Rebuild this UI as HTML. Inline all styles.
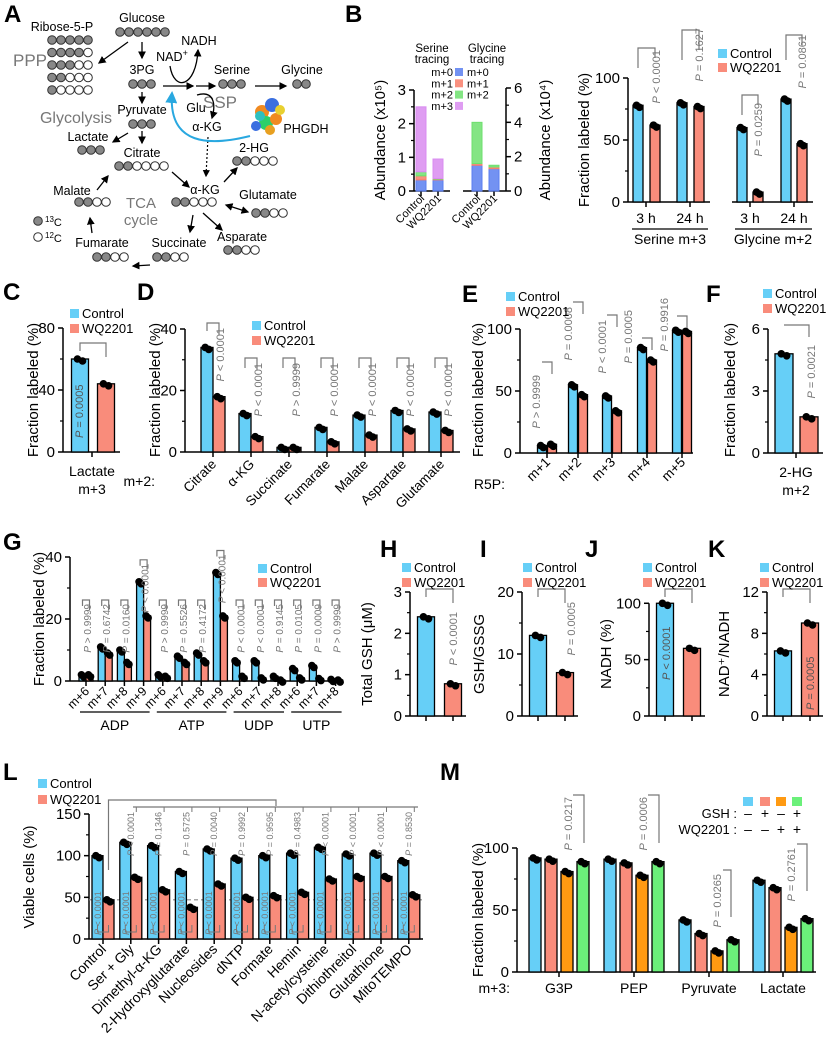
<!DOCTYPE html>
<html><head><meta charset="utf-8"><style>
body{margin:0;background:#fff;}
svg{display:block;font-family:"Liberation Sans",sans-serif;}
</style></head><body>
<svg id="fig" width="829" height="1050" viewBox="0 0 829 1050">
<defs>
<marker id="ah" markerWidth="6" markerHeight="6" refX="5" refY="3" orient="auto"><path d="M0,0 L6,3 L0,6 z" fill="#000"/></marker>
<marker id="ahs" markerWidth="6" markerHeight="6" refX="1" refY="3" orient="auto"><path d="M6,0 L0,3 L6,6 z" fill="#000"/></marker>
<marker id="ahb" markerWidth="6" markerHeight="6" refX="5" refY="3" orient="auto"><path d="M0,0 L6,3 L0,6 z" fill="#29a8e0"/></marker>
</defs>
</svg>
<script>
// ---------- data ----------
const serStackCtrl=[0.33,0.12,0.12,1.93];
const serStackWQ=[0.33,0.02,0.02,0.58];
const glyStackCtrl=[1.5,0.1,2.4];
const glyStackWQ=[1.3,0.1,0.1];
const bCtrl=[78,80,60,83];
const bWQ=[62,77,8,47];
const bP=["P < 0.0001","P = 0.1627","P = 0.0259","P = 0.0861"];
const cVals=[60,44];
const dCats=["Citrate","α-KG","Succinate","Fumarate","Malate","Aspartate","Glutamate"];
const dCtrl=[34,12.5,1.5,8,12,13.5,13];
const dWQ=[18,5,1.5,3.3,5.5,7.5,7];
const dP=["P < 0.0001","P < 0.0001","P > 0.9999","P < 0.0001","P < 0.0001","P < 0.0001","P < 0.0001"];
const eCats=["m+1","m+2","m+3","m+4","m+5"];
const eCtrl=[6,55,46,85,99];
const eWQ=[7,47,34,75,98];
const eP=["P > 0.9999","P = 0.0008","P < 0.0001","P = 0.0005","P = 0.9916"];
const fVals=[4.8,1.75];
const gCats=["m+6","m+7","m+8","m+9","m+6","m+7","m+8","m+9","m+6","m+7","m+8","m+6","m+7","m+8"];
const gCtrl=[2,11,10,32,2,8,9,35,6.5,6.5,1.5,4,5,0.5];
const gWQ=[2,9,6,21,1.5,6,6.5,21,1.5,1,0.3,1,0.8,0.3];
const gP=["P > 0.9999","P = 0.6742","P = 0.0160","P < 0.0001","P > 0.9999","P = 0.5526","P = 0.4172","P < 0.0001","P < 0.0001","P < 0.0001","P = 0.9145","P = 0.0105","P = 0.0009","P > 0.9999"];
const hVals=[2.4,0.78];
const iVals=[13,7];
const jVals=[100,60];
const kVals=[6.3,9];
const lCats=["Control","Ser + Gly","Dimethyl-α-KG","2-Hydroxyglutarate","Nucleosides","dNTP","Formate","Hemin","N-acetylcysteine","Dithiothreitol","Glutathione","MitoTEMPO"];
const lCtrl=[100,116,112,81,108,97,100,103,110,102,103,94];
const lWQ=[47,74,59,38,66,50,52,56,72,75,75,53];
const lP=["","P < 0.0001","P = 0.1346","P = 0.5725","P = 0.0040","P = 0.9992","P = 0.9595","P = 0.4983","P < 0.0001","P < 0.0001","P < 0.0001","P = 0.8530"];
const mCats=["G3P","PEP","Pyruvate","Lactate"];
const mS1=[92,91,42,74];
const mS2=[91,88,31,68];
const mS3=[81,78,17,36];
const mS4=[89,89,26,43];

// ---------- helpers ----------
const NS='http://www.w3.org/2000/svg';
const svg=document.getElementById('fig');
const BLUE='#66cff7',RED='#f98c7b',ORG='#ff9a12',GRN='#6bf07a',GRAY='#777';
function mk(tag,a,par){const e=document.createElementNS(NS,tag);for(const k in a)e.setAttribute(k,a[k]);(par||svg).appendChild(e);return e;}
function T(x,y,s,fs,anchor,color,rot,name){
  const e=mk('text',{x:x,y:y,'font-size':fs||13,'text-anchor':anchor||'start',fill:color||'#000'});
  if(rot)e.setAttribute('transform','rotate('+rot+' '+x+' '+y+')');
  e.textContent=s;
  
  
  return e;}
function PT(x,y,s,fs,name){
  const e=mk('text',{x:x,y:y,'font-size':fs||11,'text-anchor':'end',fill:GRAY,transform:'rotate(-90 '+x+' '+y+')'});
  const t=s.replace(/^P/,'');
  e.innerHTML='<tspan font-style="italic">P</tspan>'+t;
  
  
  return e;}
function PTb(x,y,s,fs,color,name){
  const e=mk('text',{x:x,y:y,'font-size':fs||11,'text-anchor':'start',fill:color||GRAY,transform:'rotate(-90 '+x+' '+y+')'});
  e.innerHTML='<tspan font-style="italic">P</tspan>'+s.replace(/^P/,'');
  
  
  return e;}
function L(x1,y1,x2,y2,c,w,name,extra){const e=mk('line',Object.assign({x1,y1,x2,y2,stroke:c||'#000','stroke-width':w||1.5},extra||{}));
  
  return e;}
function P(d,c,w,name,extra){const e=mk('path',Object.assign({d:d,fill:'none',stroke:c||'#000','stroke-width':w||1.3},extra||{}));
  
  return e;}
function letter(x,y,s){const e=T(x,y,s,24,'start','#000',0,'panel-label-'+s);e.setAttribute('font-weight','bold');}
function scale(y0,yTop,max){return v=>y0-v/max*(y0-yTop);}
function yAxis(x,y0,yTop,max,ticks,minor,fs,name){
  const Y=scale(y0,yTop,max);
  L(x,y0,x,Y(ticks[ticks.length-1]),'#000',1.5,name+'-axis');
  ticks.forEach(t=>{L(x-5,Y(t),x,Y(t),'#000',1.5,name+'-tick');T(x-8,Y(t)+5,String(t),fs||15,'end','#000',0,name+'-tick-label');});
  (minor||[]).forEach(t=>L(x-3,Y(t),x,Y(t),'#000',1.2,name+'-minor-tick'));
  return Y;}
function xAxis(x1,x2,y0,centers,name){L(x1,y0,x2,y0,'#000',1.5,name+'-x-axis');centers.forEach(c=>L(c,y0,c,y0+5,'#000',1.5,name+'-x-tick'));}
function bar(c,w,v,Y,y0,color,name){
  const yy=Y(v);
  const r=mk('rect',{x:c-w/2,y:yy,width:w,height:Math.max(0,y0-yy),fill:color,stroke:'#000','stroke-width':1.3});
  
  
  const d1=mk('circle',{cx:c-w*0.15,cy:yy,r:3.8,fill:'#000'});
  
  
  const d2=mk('circle',{cx:c+w*0.15,cy:yy+2,r:3.8,fill:'#000'});
  
  
  return r;}
function legend2(x,y,gap,fs){
  const a=mk('rect',{x:x,y:y-9,width:9,height:9,fill:BLUE});
  
  
  T(x+12,y,'Control',fs||13,'start','#000',0,'legend-control');
  const b=mk('rect',{x:x,y:y-9+gap,width:9,height:9,fill:RED});
  
  
  T(x+12,y+gap,'WQ2201',fs||13,'start','#000',0,'legend-wq2201');}
function bracket(x1,x2,y,d1,d2,name){P('M'+x1+','+(y+d1)+' L'+x1+','+y+' L'+x2+','+y+' L'+x2+','+(y+d2),GRAY,1.2,name||'significance-bracket');}

// ---------- Panel A ----------
letter(4,22,'A');
function row(x,y,n,g,name){for(let i=0;i<n;i++){const c=mk('circle',{cx:x+i*9,cy:y,r:4.3,fill:i<g?'#888':'#fff',stroke:'#333','stroke-width':1});
  
  }}
[[5],[4],[3],[2],[1]].forEach((g,i)=>row(52,40+i*12.5,5,g[0],'ribose-5-p'));
row(120,32,6,6,'glucose');row(133,84,3,3,'3pg');row(223,84,3,3,'serine');row(297,84,2,2,'glycine');
row(133,124,3,3,'pyruvate');row(82,150,3,3,'lactate');row(119,166,6,2,'citrate');row(237,161,5,2,'2-hg');
row(79,202,4,2,'malate');row(176,202,5,2,'alpha-kg');row(256,213,4,2,'glutamate');row(97,257,4,2,'fumarate');
row(157,257,4,2,'succinate');row(228,250,4,2,'asparate');
[["Ribose-5-P",62,31],["Glucose",142,22],["NADH",199,45],["3PG",142,74],["Serine",232,74],["Glycine",302,74],["Glu",196,112],["α-KG",207,131],["PHGDH",306,133],["Pyruvate",142,114],["Lactate",88,141],["Citrate",142,157],["2-HG",254,152],["Malate",72,195],["α-KG",205,194],["Glutamate",268,199],["Fumarate",102,247],["Succinate",179,247],["Asparate",242,241]].forEach(a=>T(a[1],a[2],a[0],12.5,'middle','#000',0,'metabolite-'+a[0].toLowerCase()));
(function(){const e=T(172,61,'NAD',12.5,'middle','#000',0,'nad-plus');e.innerHTML='NAD<tspan font-size="9" dy="-5">+</tspan>';})();
T(13,66,'PPP',17,'start','#777',0,'ppp-label');T(220,108,'SSP',17,'middle','#777',0,'ssp-label');
T(76,123,'Glycolysis',16,'middle','#777',0,'glycolysis-label');T(141,208,'TCA',15,'middle','#777',0,'tca-label');T(141,225,'cycle',15,'middle','#777',0,'cycle-label');
(function(){let c=mk('circle',{cx:38,cy:221,r:4.3,fill:'#888',stroke:'#333'});
c=mk('circle',{cx:38,cy:237,r:4.3,fill:'#fff',stroke:'#333'});
let e=T(45,226,'',11,'start','#000',0,'c13-legend');e.innerHTML='<tspan font-size="8" dy="-4">13</tspan><tspan dy="4">C</tspan>';
e=T(45,242,'',11,'start','#000',0,'c12-legend');e.innerHTML='<tspan font-size="8" dy="-4">12</tspan><tspan dy="4">C</tspan>';})();
const arrows=[[128,42,99,63],[142,42,142,58],[163,86,193,86],[196,86,215,86],[255,86,286,86],[142,92,142,103],[142,131,142,143],[128,133,113,142],[172,172,189,187],[97,190,108,176],[224,182,237,168],[193,215,190,232],[203,213,222,230],[150,265,133,266],[92,233,90,218]];
arrows.forEach(a=>L(a[0],a[1],a[2],a[3],'#000',1.3,'pathway-arrow',{'marker-end':'url(#ah)'}));
L(226,205,248,212,'#000',1.3,'glutamate-arrow',{'marker-end':'url(#ah)','marker-start':'url(#ahs)'});
L(208,137,206,176,'#000',1.2,'dotted-arrow',{'marker-end':'url(#ah)','stroke-dasharray':'2 2'});
P('M170,66 C174,92 196,88 198,50','#000',1.3,'nad-curve',{'marker-end':'url(#ah)'});
P('M197,95 C214,90 216,104 212,118','#000',1.3,'glu-curve',{'marker-end':'url(#ah)'});
P('M250,136 C210,146 168,146 172,93','#29a8e0',2,'phgdh-curve',{'marker-end':'url(#ahb)'});
[[262,112,7,'#f08a20'],[272,105,7,'#3a6fe0'],[266,123,7,'#2ecf6a'],[276,119,6,'#f08a20'],[256,126,5,'#3a6fe0'],[280,110,5,'#e8d030'],[270,130,5,'#e8a020'],[260,116,5,'#2ec0c0']].forEach(c=>{const e=mk('circle',{cx:c[0],cy:c[1],r:c[2],fill:c[3]});});

// ---------- Panel B left (stacked) ----------
letter(345,22,'B');
const stackCols=['#5b7ff0','#f97e6a','#6ee06e','#d98cf0'];
(function(){
  const YL=yAxis(414,191,90,3,[0,1,2,3],[0.5,1.5,2.5],15,'b-serine');
  xAxis(414,450,191,[421,438],'b-serine');
  const YR=scale(191,88,6);
  L(506,191,506,88,'#000',1.5,'b-glycine-axis');
  [0,2,4,6].forEach(t=>{L(506,YR(t),511,YR(t),'#000',1.5,'b-glycine-tick');T(514,YR(t)+5,String(t),15,'start','#000',0,'b-glycine-tick-label');});
  [1,3,5].forEach(t=>L(506,YR(t),509,YR(t),'#000',1.2,'b-glycine-minor-tick'));
  xAxis(463,506,191,[477,494],'b-glycine');
  function stack(c,vals,Y,name){let acc=0;vals.forEach((v,i)=>{const y1=Y(acc+v),y2=Y(acc);const r=mk('rect',{x:c-5,y:y1,width:10,height:y2-y1,fill:stackCols[i],stroke:stackCols[i],'stroke-width':1,'fill-opacity':0.85});
    
    acc+=v;});}
  stack(421,serStackCtrl,YL,'serine-control');stack(438,serStackWQ,YL,'serine-wq2201');
  stack(477,glyStackCtrl,YR,'glycine-control');stack(494,glyStackWQ,YR,'glycine-wq2201');
  T(385,140,'Abundance (x10⁵)',15,'middle','#000',-90,'b-left-y-title');
  T(550,140,'Abundance (x10⁴)',15,'middle','#000',-90,'b-right-y-title');
  T(432,52,'Serine',11.5,'middle','#000',0,'serine-tracing');T(432,63,'tracing',11.5,'middle','#000',0,'serine-tracing');
  T(487,52,'Glycine',11.5,'middle','#000',0,'glycine-tracing');T(487,63,'tracing',11.5,'middle','#000',0,'glycine-tracing');
  ['m+0','m+1','m+2','m+3'].forEach((s,i)=>{T(453,76+i*11.3,s,11,'end','#000',0,'legend-'+s);
    const r=mk('rect',{x:455,y:68+i*11.3,width:8,height:8,fill:stackCols[i],'fill-opacity':0.85});
    
    
    if(i<3)T(467,76+i*11.3,s,11,'start','#000',0,'legend-'+s);});
  [[421,'Control'],[438,'WQ2201'],[477,'Control'],[494,'WQ2201']].forEach(a=>T(a[0]+4,199,a[1],11,'end','#000',-45,'b-category-label'));
})();

// ---------- Panel B right ----------
(function(){
  const Y=yAxis(628,202,78,100,[0,50,100],[25,75],15,'b-fraction');
  const cC=[638,682,742,786],cW=[655,699,758,802];
  xAxis(628,710,202,[646,690],'b-serine');xAxis(732,813,202,[750,794],'b-glycine');
  cC.forEach((c,i)=>{bar(c,10,bCtrl[i],Y,202,BLUE,'b-control-bar');bar(cW[i],10,bWQ[i],Y,202,RED,'b-wq2201-bar');});
  bracket(638,655,48,20,10,'b-bracket');bracket(682,699,30,30,20,'b-bracket');bracket(742,758,95,20,10,'b-bracket');bracket(786,802,35,25,10,'b-bracket');
  PT(660,50,bP[0],11);PT(703,28,bP[1],11);PT(762,103,bP[2],11);PT(806,35,bP[3],11);
  ['3 h','24 h','3 h','24 h'].forEach((s,i)=>T([646,690,750,794][i],223,s,14,'middle','#000',0,'time-label'));
  L(632,229,708,229,'#000',1.3,'serine-group-line');L(735,229,812,229,'#000',1.3,'glycine-group-line');
  T(670,244,'Serine m+3',14,'middle','#000',0,'serine-m3-label');T(773,244,'Glycine m+2',14,'middle','#000',0,'glycine-m2-label');
  T(589,140,'Fraction labeled (%)',15,'middle','#000',-90,'b-y-title');
  legend2(718,58,14,13);
})();

// ---------- Panel C ----------
letter(3,300,'C');
(function(){
  const Y=yAxis(63,452,328,80,[0,40,80],[20,60],15,'c');
  xAxis(63,120,452,[92]);
  bar(80,17,cVals[0],Y,452,BLUE,'c-control-bar');bar(106,17,cVals[1],Y,452,RED,'c-wq2201-bar');
  bracket(80,106,343,8,14,'c-bracket');
  PTb(83,438,'P = 0.0005',11,'#555','c-p-value');
  T(92,476,'Lactate',14,'middle','#000',0,'c-category');T(92,494,'m+3',14,'middle','#000',0,'c-category');
  T(38,390,'Fraction labeled (%)',15,'middle','#000',-90,'c-y-title');
  legend2(70,318,15,13);
})();

// ---------- Panel D ----------
letter(137,300,'D');
(function(){
  const Y=yAxis(185,452,329,40,[0,20,40],[10,30],15,'d');
  const cs=dCats.map((c,i)=>213+i*38);
  xAxis(185,460,452,cs,'d');
  cs.forEach((c,i)=>{bar(c-6,12,dCtrl[i],Y,452,BLUE,'d-control-bar-'+dCats[i]);bar(c+6,12,dWQ[i],Y,452,RED,'d-wq2201-bar-'+dCats[i]);
    const by=i==0?323:358;bracket(c-6,c+6,by,i==0?8:10,12);PT(c+11,by+5,dP[i],11);
    T(c+4,465,dCats[i],13.5,'end','#000',-45,'d-category-label');});
  T(155,486,'m+2:',14,'end','#000',0,'d-m2-label');
  T(160,390,'Fraction labeled (%)',15,'middle','#000',-90,'d-y-title');
  legend2(252,330,15,13);
})();

// ---------- Panel E ----------
letter(462,302,'E');
(function(){
  const Y=yAxis(520,453,329,100,[0,50,100],[25,75],15,'e');
  const cs=[547,578,612,647,682];
  xAxis(520,693,453,cs,'e');
  const by=[362,302,315,338,316];
  cs.forEach((c,i)=>{bar(c-5,9,eCtrl[i],Y,453,BLUE,'e-control-bar-'+eCats[i]);bar(c+5,9,eWQ[i],Y,453,RED,'e-wq2201-bar-'+eCats[i]);
    bracket(c-5,c+5,by[i],0,12);
    T(c+4,463,eCats[i],13.5,'end','#000',-45,'e-category-label');});
  PT(540,375,eP[0],11);PT(572,307,eP[1],11);PT(606,320,eP[2],11);PT(632,310,eP[3],11);PT(668,298,eP[4],11);
  T(505,489,'R5P:',14,'end','#000',0,'e-r5p-label');
  T(483,390,'Fraction labeled (%)',15,'middle','#000',-90,'e-y-title');
  legend2(506,301,15,13);
})();

// ---------- Panel F ----------
letter(706,302,'F');
(function(){
  const Y=yAxis(768,453,329,6,[0,3,6],[1.5,4.5],15,'f');
  xAxis(768,823,453,[796],'f');
  bar(784,18,fVals[0],Y,453,BLUE,'f-control-bar');bar(809,18,fVals[1],Y,453,RED,'f-wq2201-bar');
  bracket(784,809,325,0,12,'f-bracket');PT(815,345,'P = 0.0021',11);
  T(796,477,'2-HG',14,'middle','#000',0,'f-category');T(796,495,'m+2',14,'middle','#000',0,'f-category');
  T(735,390,'Fraction labeled (%)',15,'middle','#000',-90,'f-y-title');
  legend2(763,298,15,13);
})();

// ---------- Panel G ----------
letter(3,550,'G');
(function(){
  const Y=yAxis(70,681,557,40,[0,20,40],[10,30],15,'g');
  const cs=gCats.map((c,i)=>86+i*19.2);
  xAxis(70,343,681,cs,'g');
  cs.forEach((c,i)=>{bar(c-3.5,7,gCtrl[i],Y,681,BLUE,'g-control-bar-'+i);bar(c+3.5,7,gWQ[i],Y,681,RED,'g-wq2201-bar-'+i);
    const by=Math.min(Y(Math.max(gCtrl[i],gWQ[i]))-22,600);const top=Math.max(by,545);
    bracket(c-3.5,c+3.5,top,6,10);PT(c+5,top+4,gP[i],10);
    T(c+4,692,gCats[i],12.5,'end','#000',-45,'g-category-label');});
  [['ADP',0,3],['ATP',4,7],['UDP',8,10],['UTP',11,13]].forEach(g=>{const a=86+g[1]*19.2-6,b=86+g[2]*19.2+6;L(a,712,b,712,'#000',1.3,'g-group-line');T((a+b)/2,730,g[0],14,'middle','#000',0,'g-group-label');});
  T(44,619,'Fraction labeled (%)',15,'middle','#000',-90,'g-y-title');
  legend2(258,573,14,13);
})();

// ---------- Panels H-K ----------
function small(ax,vals,max,ticks,minor,title,p,pInside,name,lx,pX,pY){
  const Y=yAxis(ax,716,592,max,ticks,minor,15,name);
  const c1=ax+16,c2=ax+43;
  xAxis(ax,ax+56,716,[c1,c2],name);
  bar(c1,17,vals[0],Y,716,BLUE,name+'-control-bar');bar(c2,17,vals[1],Y,716,RED,name+'-wq2201-bar');
  bracket(c1,c2,589,8,14,name+'-bracket');
  if(pInside)PTb(pX,pY,p,11,'#555',name+'-p-value');else PT(pX,pY,p,11,name+'-p-value');
  T(ax-38,654,title,15,'middle','#000',-90,name+'-y-title');
  legend2(lx,572,15,13);}
letter(380,557,'H');letter(480,557,'I');letter(585,557,'J');letter(708,557,'K');
small(410,hVals,3,[0,1,2,3],[0.5,1.5,2.5],'Total GSH (μM)','P < 0.0001',false,'h',402,457,612);
small(522,iVals,20,[0,10,20],[5,15],'GSH/GSSG','P = 0.0005',false,'i',523,575,602);
small(649,jVals,110,[0,50,100],[25,75],'NADH (%)','P < 0.0001',true,'j',643,670,680);
small(767,kVals,12,[0,4,8,12],[2,6,10],'NAD⁺/NADH','P = 0.0005',true,'k',760,814,710);

// ---------- Panel L ----------
letter(3,780,'L');
(function(){
  const Y=yAxis(89,939,814,150,[0,50,100,150],[25,75,125],15,'l');
  const cs=lCats.map((c,i)=>103+i*27.8);
  xAxis(89,423,939,cs,'l');
  L(89,Y(47),423,Y(47),'#888',1.2,'l-reference-line',{'stroke-dasharray':'4 3'});
  cs.forEach((c,i)=>{bar(c-5.5,11,lCtrl[i],Y,939,BLUE,'l-control-bar-'+i);bar(c+5.5,11,lWQ[i],Y,939,RED,'l-wq2201-bar-'+i);
    PTb(c-2,935,'P < 0.0001',9,'#777','l-bottom-p-value');
    P('M'+(c-5.5)+',925 L'+(c-5.5)+',932 L'+(c+5.5)+',932 L'+(c+5.5)+',925',GRAY,1,'l-bottom-bracket');
    if(lP[i]){PT(c+3,812,lP[i],9,'l-top-p-value');L(c+5.5,807,c+5.5,812,GRAY,1,'l-bracket-tick');}
    T(c+4,950,lCats[i],14,'end','#000',-45,'l-category-label');});
  P('M108.5,870 L108.5,800 L276,800 L276,806',GRAY,1.2,'l-formate-bracket');
  L(133,807,418,807,GRAY,1.2,'l-top-bracket');
  T(34,877,'Viable cells (%)',15,'middle','#000',-90,'l-y-title');
  legend2(38,788,16,13);
})();

// ---------- Panel M ----------
letter(440,780,'M');
(function(){
  const Y=yAxis(517,972,848,100,[0,50,100],[25,75],15,'m');
  const cs=[559,634,709,783];
  xAxis(517,816,972,cs,'m');
  const series=[mS1,mS2,mS3,mS4],cols=[BLUE,RED,ORG,GRN],off=[-24,-8,8,24];
  cs.forEach((c,i)=>{series.forEach((s,k)=>bar(c+off[k],12,s[i],Y,972,cols[k],'m-bar-'+mCats[i]+'-'+k));
    T(c,993,mCats[i],14,'middle','#000',0,'m-category-label');});
  P('M573,795 L584,795 L584,843',GRAY,1.2,'m-bracket');PT(572,797,'P = 0.0217',11);
  P('M648,795 L659,795 L659,843',GRAY,1.2,'m-bracket');PT(647,797,'P = 0.0006',11);
  P('M723,870 L731,870 L731,917',GRAY,1.2,'m-bracket');PT(721,874,'P = 0.0265',11);
  P('M797,844 L807,844 L807,891',GRAY,1.2,'m-bracket');PT(795,848,'P = 0.2761',11);
  T(510,993,'m+3:',14,'end','#000',0,'m-m3-label');
  T(483,910,'Fraction labeled (%)',15,'middle','#000',-90,'m-y-title');
  const sx=[748,765,781,797];
  sx.forEach((x,k)=>{const r=mk('rect',{x:x-5,y:797,width:10,height:9,fill:cols[k]});
    
    });
  T(737,818,'GSH :',13,'end','#000',0,'m-gsh-label');T(737,834,'WQ2201 :',13,'end','#000',0,'m-wq2201-label');
  ['–','+','–','+'].forEach((s,k)=>T(sx[k],818,s,14,'middle','#000',0,'m-gsh-sign'));
  ['–','–','+','+'].forEach((s,k)=>T(sx[k],834,s,14,'middle','#000',0,'m-wq2201-sign'));
})();
</script>
</body></html>
